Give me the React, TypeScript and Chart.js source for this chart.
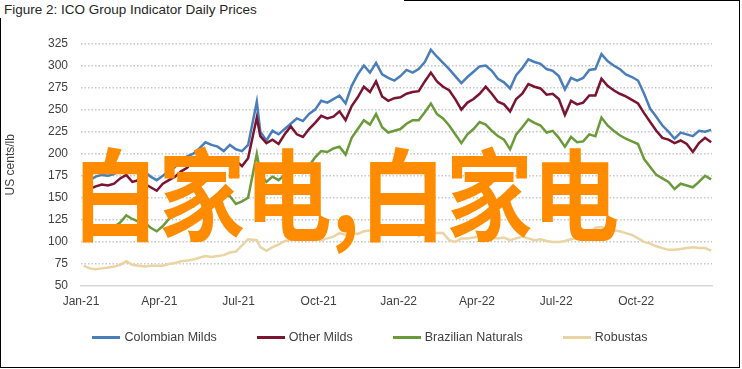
import React, { useEffect, useRef } from "react";
import { Chart, registerables } from "chart.js";

Chart.register(...registerables);

const TITLE = "Figure 2: ICO Group Indicator Daily Prices";
const Y_TITLE = "US cents/lb";
const WATERMARK = "白家电,白家电";

const DATES = [
  "2021-01-04","2021-01-11","2021-01-18","2021-01-25","2021-02-01","2021-02-08","2021-02-15","2021-02-22",
  "2021-03-01","2021-03-08","2021-03-15","2021-03-22","2021-03-29","2021-04-05","2021-04-12","2021-04-19",
  "2021-04-26","2021-05-03","2021-05-10","2021-05-17","2021-05-24","2021-05-31","2021-06-07","2021-06-14",
  "2021-06-21","2021-06-28","2021-07-05","2021-07-12","2021-07-22","2021-07-26","2021-08-02","2021-08-09",
  "2021-08-16","2021-08-23","2021-08-30","2021-09-06","2021-09-13","2021-09-20","2021-09-27","2021-10-04",
  "2021-10-11","2021-10-18","2021-10-25","2021-11-01","2021-11-08","2021-11-15","2021-11-22","2021-11-29",
  "2021-12-06","2021-12-13","2021-12-20","2021-12-27",
  "2022-01-03","2022-01-10","2022-01-17","2022-01-24","2022-01-31","2022-02-07","2022-02-14","2022-02-21",
  "2022-02-28","2022-03-07","2022-03-14","2022-03-21","2022-03-28","2022-04-04","2022-04-11","2022-04-18",
  "2022-04-25","2022-05-02","2022-05-09","2022-05-16","2022-05-23","2022-05-30","2022-06-06","2022-06-13",
  "2022-06-20","2022-06-27","2022-07-04","2022-07-11","2022-07-18","2022-07-25","2022-08-01","2022-08-08",
  "2022-08-15","2022-08-22","2022-08-29","2022-09-05","2022-09-12","2022-09-19","2022-09-26","2022-10-03",
  "2022-10-10","2022-10-17","2022-10-24","2022-10-31","2022-11-07","2022-11-14","2022-11-21","2022-11-28",
  "2022-12-05","2022-12-12","2022-12-19","2022-12-26",
];

const COLOMBIAN_MILDS = [
  172,170,174,176,175,177,182,187,180,178,180,174,170,175,180,185,
  193,197,200,206,213,210,208,203,210,205,203,210,259,225,215,226,
  222,228,234,240,237,245,250,260,258,262,266,257,277,290,300,292,
  303,290,286,283,
  288,295,292,296,304,318,310,303,296,288,280,287,293,299,300,294,
  285,281,274,289,297,307,304,302,296,294,288,273,286,283,286,295,
  296,313,305,300,296,290,287,283,268,251,242,232,225,217,224,222,
  220,226,225,227,
];

const OTHER_MILDS = [
  163,160,163,165,164,166,172,176,168,170,166,162,158,166,170,174,
  180,184,192,197,198,194,195,188,196,192,186,195,241,220,212,216,
  211,222,231,222,219,228,235,243,240,242,248,238,254,264,276,270,
  282,265,260,263,
  264,268,270,271,282,292,282,276,272,262,250,258,262,268,276,268,
  259,256,248,262,268,279,276,274,267,268,262,244,260,256,258,266,
  266,285,277,272,268,265,261,257,246,236,226,218,216,212,215,211,
  202,212,218,213,
];

const BRAZILIAN_NATURALS = [
  114,116,115,113,116,117,122,130,126,123,122,116,112,118,126,130,
  138,142,140,150,150,146,151,153,152,143,146,150,200,178,168,174,
  170,176,183,180,178,186,196,203,202,206,208,199,218,228,238,233,
  245,230,224,226,
  228,234,238,238,247,257,245,240,232,222,212,222,228,236,233,226,
  220,216,205,222,230,239,235,232,224,226,218,208,219,213,214,222,
  220,241,232,226,221,217,214,211,194,185,176,172,168,160,166,164,
  162,168,175,171,
];

const ROBUSTAS = [
  73,70,69,70,71,72,74,78,74,73,72,73,73,73,75,76,
  78,79,80,82,84,83,84,85,88,89,96,103,102,94,90,94,
  97,101,102,105,106,104,104,102,104,106,110,108,110,109,112,113,
  113,111,110,113,
  114,112,111,107,110,111,110,110,102,100,104,104,105,106,106,105,
  104,105,102,104,106,104,102,103,101,100,100,101,103,104,106,110,
  116,117,114,113,112,110,108,104,100,98,95,93,91,91,92,93,
  94,93,93,90,
];

const SERIES_NAMES = ["Colombian Milds", "Other Milds", "Brazilian Naturals", "Robustas"];
const SERIES_COLORS = ["#4A7EBB", "#7A1430", "#6A9A3A", "#EAD4A4"];

const TICK_DATES = ["2021-01-01","2021-04-01","2021-07-01","2021-10-01","2022-01-01","2022-04-01","2022-07-01","2022-10-01"];
const TICK_LABELS = ["Jan-21","Apr-21","Jul-21","Oct-21","Jan-22","Apr-22","Jul-22","Oct-22"];
const X_END_DATE = "2022-12-27";

const Y_MIN = 50;
const Y_MAX = 325;
const Y_STEP = 25;

const FONT = "'Liberation Sans', Arial, sans-serif";
const TEXT = "#404040";

function dayOf(s: string): number {
  const [y, m, d] = s.split("-").map(Number);
  return (Date.UTC(y, m - 1, d) - Date.UTC(2021, 0, 1)) / 86400000;
}

export default function App() {
  const ref = useRef<HTMLCanvasElement | null>(null);

  useEffect(() => {
    if (!ref.current) return;
    const allSeries = [COLOMBIAN_MILDS, OTHER_MILDS, BRAZILIAN_NATURALS, ROBUSTAS];
    const tickDays = TICK_DATES.map(dayOf);
    const chart = new Chart(ref.current, {
      type: "line",
      data: {
        datasets: allSeries.map((vals, i) => ({
          label: SERIES_NAMES[i],
          data: vals.map((v, j) => ({ x: dayOf(DATES[j]), y: v })),
          borderColor: SERIES_COLORS[i],
          backgroundColor: SERIES_COLORS[i],
          borderWidth: 2.5,
          pointRadius: 0,
          tension: 0,
          fill: false,
          order: 4 - i,
        })),
      },
      options: {
        animation: false,
        responsive: false,
        devicePixelRatio: 1,
        layout: { padding: { left: 0, right: 30, top: 43.5, bottom: 0 } },
        plugins: {
          legend: { display: false },
          tooltip: { enabled: false },
          title: { display: false },
        },
        scales: {
          x: {
            type: "linear",
            min: 0,
            max: dayOf(X_END_DATE),
            grid: { display: false, drawTicks: false },
            border: { display: true, color: "#d6d6d6", width: 1.5 },
            ticks: {
              color: TEXT,
              font: { family: FONT, size: 12 },
              padding: 8,
              maxRotation: 0,
              autoSkip: false,
              callback: (v: any) => {
                const k = tickDays.indexOf(Number(v));
                return k >= 0 ? TICK_LABELS[k] : "";
              },
            },
            afterBuildTicks: (s: any) => {
              s.ticks = tickDays.map((v) => ({ value: v }));
            },
            afterFit: (s: any) => {
              s.height = 83;
            },
          },
          y: {
            min: Y_MIN,
            max: Y_MAX,
            grid: {
              drawTicks: false,
              lineWidth: 1.5,
              color: (ctx: any) => (ctx.tick && ctx.tick.value === Y_MIN ? "rgba(0,0,0,0)" : "#c8c8c8"),
            },
            border: { display: false, dash: [1.5, 2] },
            ticks: {
              stepSize: Y_STEP,
              color: TEXT,
              font: { family: FONT, size: 12 },
              padding: 13,
            },
            title: {
              display: true,
              text: Y_TITLE,
              color: TEXT,
              font: { family: FONT, size: 12 },
              padding: { top: 3, bottom: 0 },
            },
            afterFit: (s: any) => {
              s.width = 81;
            },
          },
        },
      },
    });
    return () => chart.destroy();
  }, []);

  return (
    <div style={{ position: "absolute", left: 0, top: 0, width: 742, height: 369, background: "#fff", overflow: "hidden", fontFamily: FONT }}>
      <canvas ref={ref} width={742} height={369} style={{ position: "absolute", left: 0, top: 0, width: 742, height: 369 }} />
      <div style={{ position: "absolute", left: 0, top: 0, width: 740, height: 368, border: "1.5px solid #000", boxSizing: "border-box", pointerEvents: "none" }} />
      <div style={{ position: "absolute", left: 0, top: 0, width: 400, paddingLeft: 4, height: 18, lineHeight: "19px", background: "#fff", color: "#262626", fontSize: 13.5, whiteSpace: "nowrap" }}>
        {TITLE}
      </div>
      <div style={{ position: "absolute", left: 0, top: 329, width: 740, display: "flex", justifyContent: "center", gap: 40, color: TEXT, fontSize: 12.5, lineHeight: "16px" }}>
        {SERIES_NAMES.map((n, i) => (
          <div key={n} style={{ display: "flex", alignItems: "center", whiteSpace: "nowrap" }}>
            <span style={{ display: "inline-block", width: 28, height: 3, background: SERIES_COLORS[i], marginRight: 4 }} />
            <span>{n}</span>
          </div>
        ))}
      </div>
      <div style={{ position: "absolute", left: 72, top: 140, color: "#FF8C00", fontSize: 100, fontWeight: 700, lineHeight: 1, whiteSpace: "nowrap", fontFamily: "'Noto Sans CJK SC', sans-serif", transform: "scaleX(0.865)", transformOrigin: "0 0", pointerEvents: "none" }}>
        {WATERMARK}
      </div>
    </div>
  );
}
